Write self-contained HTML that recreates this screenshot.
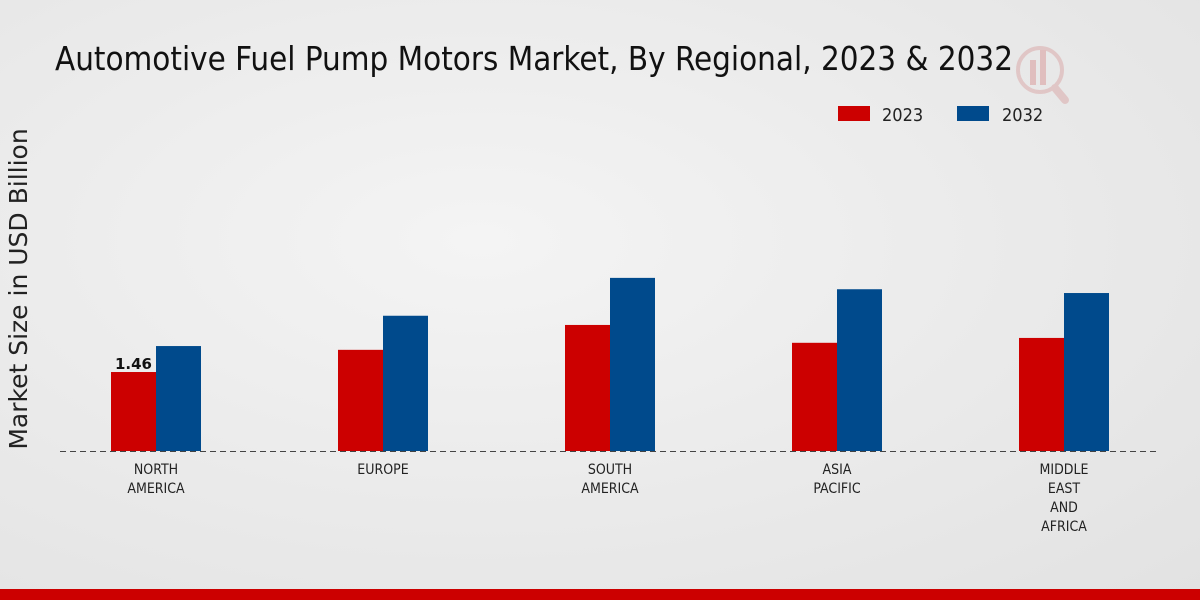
<!DOCTYPE html>
<html><head><meta charset="utf-8"><style>
html,body{margin:0;padding:0;width:1200px;height:600px;overflow:hidden}
body{background:radial-gradient(ellipse at 40% 40%,#f4f4f4 0%,#e9e9e9 60%,#e2e2e2 100%);font-family:"DejaVu Sans","Liberation Sans",sans-serif}
</style></head><body>
<svg id="chart" width="1200" height="600" xmlns="http://www.w3.org/2000/svg">
<text x="55" y="70" font-family="DejaVu Sans Condensed, DejaVu Sans, sans-serif" font-size="33" fill="#111" textLength="958" lengthAdjust="spacingAndGlyphs">Automotive Fuel Pump Motors Market, By Regional, 2023 &amp; 2032</text>
<g opacity="0.25" fill="#c44">
<circle cx="1040" cy="70" r="22" fill="none" stroke="#c66" stroke-width="4"/>
<rect x="1030" y="60" width="6" height="25"/><rect x="1040" y="50" width="6" height="35"/>
<line x1="1055" y1="88" x2="1065" y2="100" stroke="#c66" stroke-width="8" stroke-linecap="round"/>
</g>
<g>
<rect x="838" y="106" width="32" height="15" fill="#cc0000"/>
<text x="882" y="121" font-size="18" fill="#222" font-family="DejaVu Sans Condensed, DejaVu Sans, sans-serif">2023</text>
<rect x="957" y="106" width="32" height="15" fill="#004a8c"/>
<text x="1002" y="121" font-size="18" fill="#222" font-family="DejaVu Sans Condensed, DejaVu Sans, sans-serif">2032</text>
</g>
<text transform="translate(27,289) rotate(-90)" text-anchor="middle" font-size="25" fill="#222">Market Size in USD Billion</text>
<line x1="60" y1="451.5" x2="1160" y2="451.5" stroke="#444" stroke-width="1" stroke-dasharray="6,4"/>
<g id="bars"></g>
<rect x="0" y="589" width="1200" height="11" fill="#cc0000"/>
</svg>
<script>
const categories=[["NORTH","AMERICA"],["EUROPE"],["SOUTH","AMERICA"],["ASIA","PACIFIC"],["MIDDLE","EAST","AND","AFRICA"]];
const values2023=[1.46,1.87,2.33,2.0,2.09];
const values2032=[1.94,2.5,3.2,2.99,2.92];
const labels2023=["1.46",null,null,null,null];
const baseY=451, pxPerUnit=54.1, x0=156, step=227, bw=45;
const ns="http://www.w3.org/2000/svg";
const g=document.getElementById('bars');
function xC(i){return x0+i*step;}
function yH(v){return v*pxPerUnit;}
function mk(t,a){const e=document.createElementNS(ns,t);for(const k in a)e.setAttribute(k,a[k]);return e;}
categories.forEach((c,i)=>{
  const h1=yH(values2023[i]),h2=yH(values2032[i]);
  const r1=mk('rect',{x:xC(i)-bw,y:baseY-h1,width:bw,height:h1,fill:'#cc0000'});
  
  
  g.appendChild(r1);
  const r2=mk('rect',{x:xC(i),y:baseY-h2,width:bw,height:h2,fill:'#004a8c'});
  
  
  g.appendChild(r2);
  if(labels2023[i]){
    const t=mk('text',{x:xC(i)-bw/2,y:baseY-h1-3,'text-anchor':'middle','font-size':'15','font-weight':'bold',fill:'#111'});
    t.textContent=labels2023[i];
    
    
    g.appendChild(t);
  }
  const tl=mk('text',{x:xC(i),'text-anchor':'middle','font-size':'14',fill:'#222','font-family':'DejaVu Sans Condensed, DejaVu Sans, sans-serif'});
  
  
  c.forEach((line,j)=>{const s=mk('tspan',{x:xC(i),y:474+j*19});s.textContent=line;tl.appendChild(s);});
  g.appendChild(tl);
});
</script>
</body></html>
